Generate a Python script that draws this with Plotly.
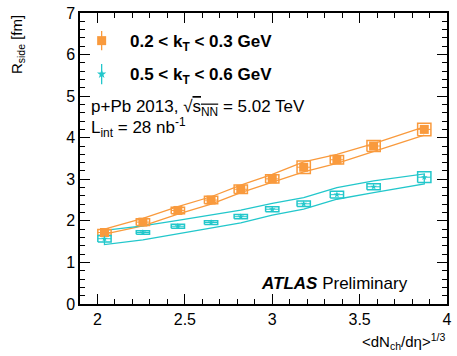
import plotly.graph_objects as go

# ---- data ----
x_vals = [2.04, 2.26, 2.46, 2.65, 2.82, 3.00, 3.18, 3.37, 3.58, 3.87]

orange_y = [1.72, 1.97, 2.25, 2.50, 2.76, 3.01, 3.29, 3.47, 3.80, 4.20]
orange_sys = [0.07, 0.08, 0.08, 0.09, 0.10, 0.10, 0.15, 0.10, 0.13, 0.15]
orange_band_hi = [1.80, 2.06, 2.34, 2.58, 2.86, 3.12, 3.42, 3.60, 3.86, 4.26]
orange_band_lo = [1.68, 1.88, 2.16, 2.40, 2.68, 2.93, 3.18, 3.38, 3.66, 4.06]

cyan_y = [1.57, 1.72, 1.87, 1.96, 2.10, 2.28, 2.41, 2.63, 2.82, 3.05]
cyan_sys = [0.08, 0.045, 0.05, 0.045, 0.05, 0.06, 0.065, 0.08, 0.07, 0.13]
cyan_band_hi = [1.77, 1.88, 2.01, 2.15, 2.26, 2.42, 2.56, 2.80, 2.96, 3.13]
cyan_band_lo = [1.43, 1.54, 1.69, 1.83, 1.95, 2.14, 2.28, 2.52, 2.68, 2.89]

x_ticks = [2, 2.5, 3, 3.5, 4]
y_ticks = [0, 1, 2, 3, 4, 5, 6, 7]

legend_labels = ["<b>0.2 < k<sub>T</sub> < 0.3 GeV</b>", "<b>0.5 < k<sub>T</sub> < 0.6 GeV</b>"]

ORANGE = "#F99A3D"
CYAN = "#22C7CB"
FONT = "Liberation Sans, Arial, Helvetica, sans-serif"
BOX_HW = 0.038


def box_path(xs, ys, hs, hw):
    px, py = [], []
    for xv, yv, h in zip(xs, ys, hs):
        px += [xv - hw, xv + hw, xv + hw, xv - hw, xv - hw, None]
        py += [yv - h, yv - h, yv + h, yv + h, yv - h, None]
    return px, py


fig = go.Figure()

# orange band (two lines)
fig.add_trace(go.Scatter(x=x_vals, y=orange_band_hi, mode="lines",
                         line=dict(color=ORANGE, width=1.3), showlegend=False, hoverinfo="skip"))
fig.add_trace(go.Scatter(x=x_vals, y=orange_band_lo, mode="lines",
                         line=dict(color=ORANGE, width=1.3), showlegend=False, hoverinfo="skip"))
# cyan band (closed outline)
fig.add_trace(go.Scatter(x=x_vals + x_vals[::-1] + [x_vals[0]],
                         y=cyan_band_hi + cyan_band_lo[::-1] + [cyan_band_hi[0]], mode="lines",
                         line=dict(color=CYAN, width=1.3), showlegend=False, hoverinfo="skip"))

# systematic boxes
bx, by = box_path(x_vals, orange_y, orange_sys, BOX_HW)
fig.add_trace(go.Scatter(x=bx, y=by, mode="lines", line=dict(color=ORANGE, width=1.5),
                         showlegend=False, hoverinfo="skip"))
bx, by = box_path(x_vals, cyan_y, cyan_sys, BOX_HW)
fig.add_trace(go.Scatter(x=bx, y=by, mode="lines", line=dict(color=CYAN, width=1.5),
                         showlegend=False, hoverinfo="skip"))

# points
fig.add_trace(go.Scatter(x=x_vals, y=orange_y, mode="markers",
                         marker=dict(symbol="square", size=9, color=ORANGE),
                         error_x=dict(type="constant", value=BOX_HW, color=ORANGE, thickness=1, width=0),
                         error_y=dict(type="constant", value=0.03, color=ORANGE, thickness=1, width=0),
                         showlegend=False))
fig.add_trace(go.Scatter(x=x_vals, y=cyan_y, mode="markers",
                         marker=dict(symbol="star", size=5, color=CYAN),
                         error_x=dict(type="constant", value=BOX_HW, color=CYAN, thickness=1, width=0),
                         error_y=dict(type="constant", value=0.04, color=CYAN, thickness=1, width=0),
                         showlegend=False))

# legend symbols on an overlay axis (0..1 frame)
fig.add_trace(go.Scatter(x=[0.059], y=[0.905], xaxis="x2", yaxis="y2", mode="markers",
                         marker=dict(symbol="square", size=9, color=ORANGE),
                         error_y=dict(type="constant", value=0.033, color=ORANGE, thickness=1.3, width=0),
                         showlegend=False, hoverinfo="skip"))
fig.add_trace(go.Scatter(x=[0.059], y=[0.79], xaxis="x2", yaxis="y2", mode="markers",
                         marker=dict(symbol="star", size=7, color=CYAN),
                         error_y=dict(type="constant", value=0.035, color=CYAN, thickness=1.3, width=0),
                         showlegend=False, hoverinfo="skip"))

axis_common = dict(showline=True, linecolor="black", linewidth=1.5, mirror="ticks",
                   ticks="inside", ticklen=10, tickwidth=1.2, tickcolor="black",
                   showgrid=False, zeroline=False,
                   tickfont=dict(family=FONT, size=16, color="black"))

fig.update_layout(
    width=457, height=356,
    margin=dict(l=80, r=5, t=13, b=52),
    plot_bgcolor="white", paper_bgcolor="white",
    showlegend=False,
    xaxis=dict(range=[1.9, 4.0], tickvals=x_ticks, ticktext=[str(v) for v in x_ticks],
               minor=dict(ticks="inside", ticklen=5, dtick=0.1, tickcolor="black", tickwidth=1),
               **axis_common),
    yaxis=dict(range=[0, 7], tickvals=y_ticks,
               minor=dict(ticks="inside", ticklen=5, dtick=0.2, tickcolor="black", tickwidth=1),
               **axis_common),
    xaxis2=dict(range=[0, 1], overlaying="x", visible=False, fixedrange=True),
    yaxis2=dict(range=[0, 1], overlaying="y", visible=False, fixedrange=True),
)

ann = []
# legend text
for lbl, yv in zip(legend_labels, [0.897, 0.785]):
    ann.append(dict(text=lbl, xref="paper", yref="paper", x=0.132, y=yv,
                    xanchor="left", yanchor="middle", showarrow=False,
                    font=dict(family=FONT, size=17, color="black")))
ann.append(dict(text="p+Pb 2013, √<span style='text-decoration:overline'>s<sub>NN</sub></span> = 5.02 TeV",
                xref="paper", yref="paper", x=0.025, y=0.675, xanchor="left", yanchor="middle",
                showarrow=False, font=dict(family=FONT, size=17, color="black")))
ann.append(dict(text="L<sub>int</sub> = 28 nb<sup>-1</sup>",
                xref="paper", yref="paper", x=0.025, y=0.607, xanchor="left", yanchor="middle",
                showarrow=False, font=dict(family=FONT, size=17, color="black")))
ann.append(dict(text="<b><i>ATLAS</i></b> Preliminary",
                xref="paper", yref="paper", x=0.90, y=0.072, xanchor="right", yanchor="middle",
                showarrow=False, font=dict(family=FONT, size=17, color="black")))
# axis titles
ann.append(dict(text="R<sub>side</sub> [fm]", xref="paper", yref="paper",
                x=-0.17, y=1.0, xanchor="center", yanchor="top", textangle=-90,
                showarrow=False, font=dict(family=FONT, size=15, color="black")))
ann.append(dict(text="<dN<sub>ch</sub>/dη><sup>1/3</sup>", xref="paper", yref="paper",
                x=1.0, y=-0.086, xanchor="right", yanchor="top",
                showarrow=False, font=dict(family=FONT, size=15, color="black")))
fig.update_layout(annotations=ann)

fig.write_html("out.html")
